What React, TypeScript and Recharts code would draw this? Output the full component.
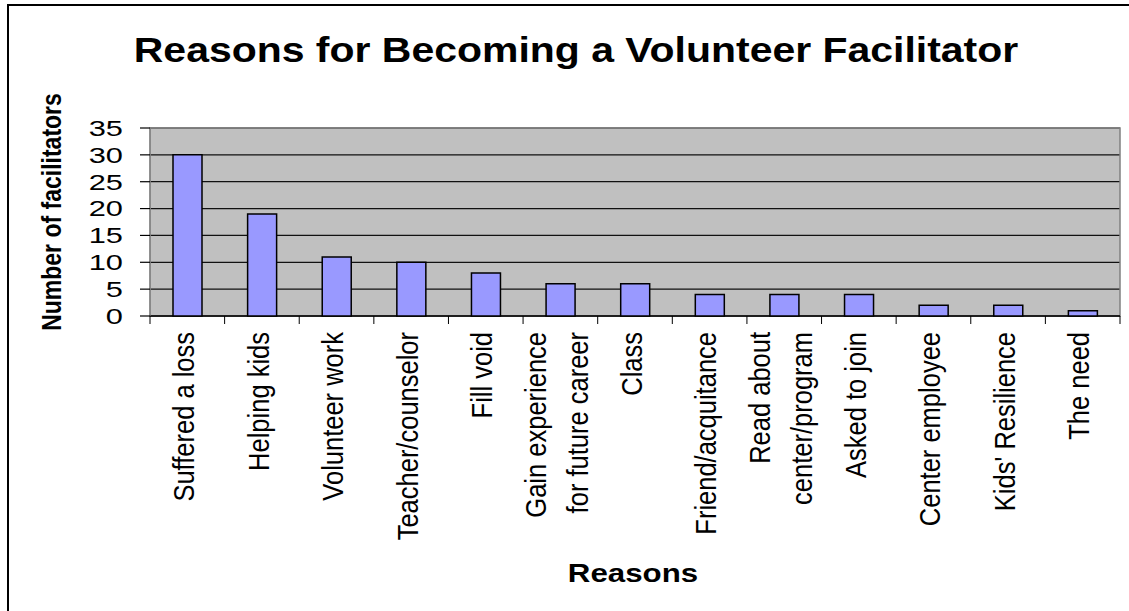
import React from 'react';
import { BarChart, Bar, XAxis, YAxis, CartesianGrid, usePlotArea } from 'recharts';

const reasons = [
  'Suffered a loss',
  'Helping kids',
  'Volunteer work',
  'Teacher/counselor',
  'Fill void',
  'Gain experience\nfor future career',
  'Class',
  'Friend/acquitance',
  'Read about\ncenter/program',
  'Asked to join',
  'Center employee',
  "Kids' Resilience",
  'The need',
];
const facilitators = [30, 19, 11, 10, 8, 6, 6, 4, 4, 4, 2, 2, 1];
const yTicks = [0, 5, 10, 15, 20, 25, 30, 35];

const data = reasons.map((reason, i) => ({ reason, count: facilitators[i] }));

const FONT = '"Liberation Sans", Arial, sans-serif';

function YTick({ x, y, payload }: any) {
  return (
    <text
      transform={`translate(${x},${y}) scale(1.4,1)`}
      textAnchor="end"
      dy="0.36em"
      fontSize={22}
      fontFamily={FONT}
      fill="#000"
    >
      {payload.value}
    </text>
  );
}

function XTick({ x, y, payload }: any) {
  const lines = String(payload.value).split('\n');
  const spacing = 36;
  return (
    <g transform={`translate(${x - 4},${y}) scale(1.16,1) rotate(-90)`}>
      <text textAnchor="end" fontSize={25.5} fontFamily={FONT} fill="#000">
        {lines.map((line, i) => (
          <tspan
            key={i}
            x={0}
            y={(i - (lines.length - 1) / 2) * spacing}
            dy="0.36em"
          >
            {line}
          </tspan>
        ))}
      </text>
    </g>
  );
}

// plot border and the between-category tick marks
function PlotFrame() {
  const area = usePlotArea();
  if (!area) return null;
  const step = area.width / reasons.length;
  const bottom = area.y + area.height;
  return (
    <g>
      <rect
        x={area.x}
        y={area.y}
        width={area.width}
        height={area.height}
        fill="none"
        stroke="#808080"
        strokeWidth={1.5}
      />
      <line x1={area.x} x2={area.x + area.width} y1={bottom} y2={bottom} stroke="#000" strokeWidth={1.5} />
      {reasons.concat(['']).map((_, i) => (
        <line
          key={i}
          x1={area.x + i * step}
          x2={area.x + i * step}
          y1={bottom}
          y2={bottom + 8}
          stroke="#000"
          strokeWidth={1}
        />
      ))}
    </g>
  );
}

export default function App() {
  return (
    <div
      style={{
        position: 'fixed',
        left: 0,
        top: 0,
        width: 1129,
        height: 611,
        background: '#fff',
        overflow: 'hidden',
        fontFamily: FONT,
      }}
    >
      <div
        style={{
          position: 'absolute',
          left: 7,
          top: 4,
          width: 1140,
          height: 640,
          borderTop: '2px solid #000',
          borderLeft: '2px solid #000',
        }}
      />
      <div
        style={{
          position: 'absolute',
          left: 576,
          top: 32,
          transform: 'translateX(-50%) scaleX(1.17)',
          fontSize: 35,
          fontWeight: 'bold',
          lineHeight: 1,
          whiteSpace: 'nowrap',
        }}
      >
        Reasons for Becoming a Volunteer Facilitator
      </div>
      <div
        style={{
          position: 'absolute',
          left: 52,
          top: 212,
          transform: 'translate(-50%, -50%) scaleX(1.2) rotate(-90deg)',
          fontSize: 23,
          fontWeight: 'bold',
          lineHeight: 1,
          whiteSpace: 'nowrap',
        }}
      >
        Number of facilitators
      </div>
      <div
        style={{
          position: 'absolute',
          left: 633,
          top: 561,
          transform: 'translateX(-50%) scaleX(1.25)',
          fontSize: 25,
          fontWeight: 'bold',
          lineHeight: 1,
          whiteSpace: 'nowrap',
        }}
      >
        Reasons
      </div>
      <div style={{ position: 'absolute', left: 0, top: 0 }}>
        <BarChart
          width={1129}
          height={611}
          data={data}
          margin={{ top: 128, right: 9, left: 90, bottom: 45 }}
          barSize={29}
        >
          <CartesianGrid
            vertical={false}
            stroke="#111"
            strokeWidth={1.2}
            fill="#C0C0C0"
            fillOpacity={1}
          />
          <YAxis
            width={60}
            domain={[0, 35]}
            ticks={yTicks}
            interval={0}
            tick={<YTick />}
            tickSize={10}
            tickMargin={17}
            tickLine={{ stroke: '#000', strokeWidth: 1.2 }}
            axisLine={{ stroke: '#808080' }}
          />
          <XAxis
            dataKey="reason"
            height={250}
            interval={0}
            tick={<XTick />}
            tickLine={false}
            tickSize={8}
            tickMargin={8}
            axisLine={false}
          />
          <Bar
            dataKey="count"
            fill="#9999FF"
            stroke="#000"
            strokeWidth={1.5}
            isAnimationActive={false}
          />
          <PlotFrame />
        </BarChart>
      </div>
    </div>
  );
}
